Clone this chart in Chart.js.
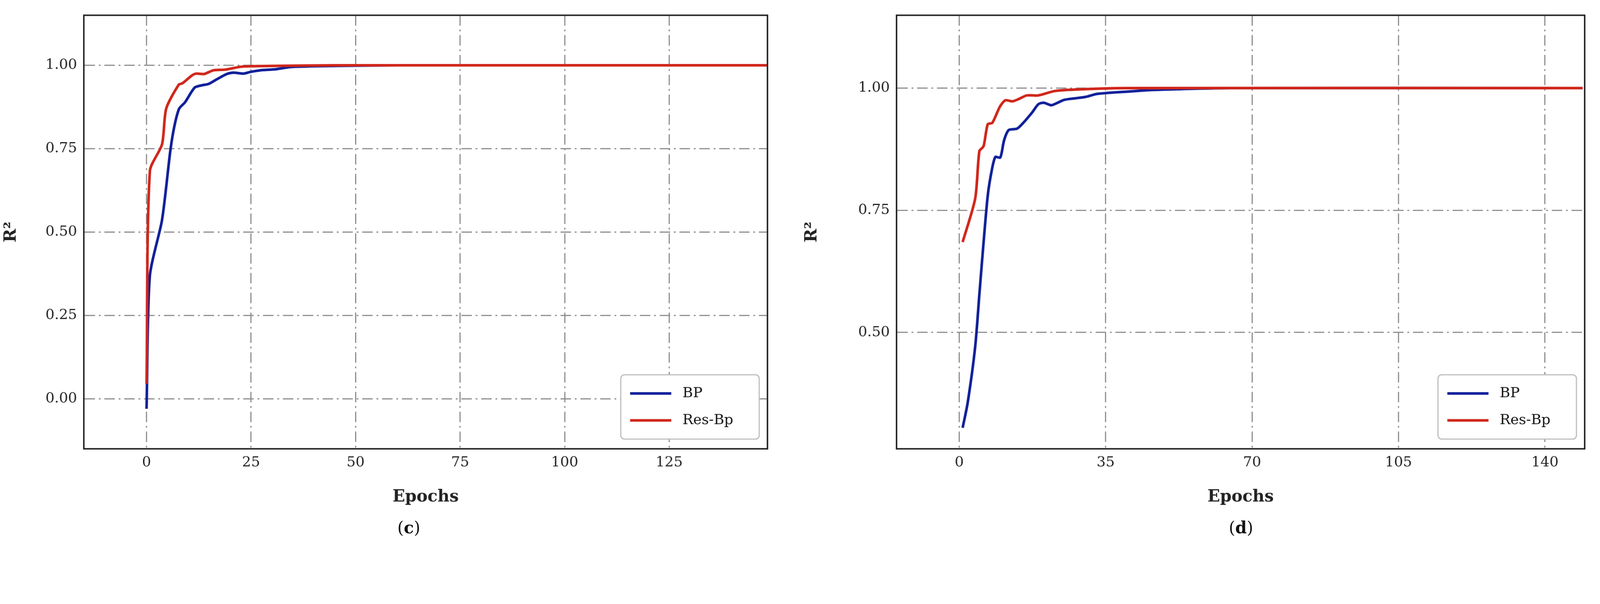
<!DOCTYPE html>
<html>
<head>
<meta charset="utf-8">
<script src="https://cdn.jsdelivr.net/npm/chart.js@4.4.1/dist/chart.umd.min.js"></script>
<style>
  html, body { margin: 0; background: #fff; overflow: hidden; }
  #wrap { width: 4276px; height: 1547px; position: relative; transform-origin: 0 0; }
  .panel { position: absolute; top: 0; height: 1547px; }
  .cap { position: absolute; top: 1385px; font: 44px "DejaVu Serif", serif; color: #111; }
</style>
</head>
<body>
<div id="wrap">
<div class="panel" style="left:0;width:2140px"><canvas id="chart-c"></canvas></div>
<div class="panel" style="left:2140px;width:2136px"><canvas id="chart-d"></canvas></div>
<div class="cap" style="left:1062px">(<b>c</b>)</div>
<div class="cap" style="left:3284px">(<b>d</b>)</div>
</div>
<script>
// panel (c)
const epochsBpC = [0, 0.8, 3.7, 5.7, 6.7, 7.8, 9.2, 11.5, 13.2, 14.8, 16.8, 19.2, 20.8, 23.2, 24.8, 27.2, 30.8, 34.7, 45, 60, 149];
const bpC = [-0.03, 0.37, 0.536, 0.745, 0.82, 0.87, 0.889, 0.933, 0.94, 0.944, 0.958, 0.974, 0.978, 0.975, 0.98, 0.985, 0.988, 0.995, 0.998, 1.0, 1.0];
const epochsResC = [0, 0.8, 3.7, 4.7, 7.7, 8.6, 10.8, 11.8, 13.8, 16, 18.8, 22.8, 30, 45, 149];
const resC = [0.045, 0.683, 0.763, 0.87, 0.942, 0.946, 0.969, 0.975, 0.974, 0.985, 0.987, 0.996, 0.998, 1.0, 1.0];
const xTicksC = [0, 25, 50, 75, 100, 125];
const yTicksC = [0, 0.25, 0.5, 0.75, 1.0];

// panel (d)
const epochsBpD = [0.8, 2, 3.8, 4.8, 5.8, 6.8, 7.7, 8.6, 9.8, 10.7, 11.8, 13.8, 15.3, 17.4, 18.9, 20.2, 22, 23.5, 25.1, 27.6, 30.2, 32.8, 35.3, 40.5, 45.6, 53, 65, 149];
const bpD = [0.305, 0.356, 0.471, 0.578, 0.684, 0.78, 0.829, 0.859, 0.858, 0.893, 0.914, 0.917, 0.929, 0.95, 0.967, 0.97, 0.965, 0.97, 0.976, 0.979, 0.982, 0.988, 0.99, 0.993, 0.996, 0.998, 1.0, 1.0];
const epochsResD = [0.8, 3.8, 4.8, 5.8, 6.8, 7.9, 9.7, 11, 12.7, 14.3, 16.1, 18.9, 22.8, 27.6, 40, 149];
const resD = [0.685, 0.774, 0.871, 0.881, 0.926, 0.929, 0.962, 0.975, 0.973, 0.978, 0.985, 0.985, 0.994, 0.997, 1.0, 1.0];
const xTicksD = [0, 35, 70, 105, 140];
const yTicksD = [0.5, 0.75, 1.0];

const BLUE = '#0f1f99';
const RED = '#d0261a';
const FONT = '"DejaVu Serif", "Liberation Serif", serif';

// fit the 4276px layout into whatever window we get
const s = Math.min(1, window.innerWidth / 4276);
document.getElementById('wrap').style.transform = 'scale(' + s + ')';

const pts = (xs, ys) => xs.map((x, i) => ({ x, y: ys[i] }));

// legend box in lower right of the plot area
const boxLegend = {
  id: 'boxLegend',
  afterDraw(chart) {
    const { ctx, chartArea: a } = chart;
    const w = 370, h = 172;
    const x = a.right - w - 22, y = a.bottom - h - 26;
    ctx.save();
    ctx.fillStyle = '#fff';
    ctx.strokeStyle = '#bbb';
    ctx.lineWidth = 3;
    ctx.beginPath();
    ctx.roundRect(x, y, w, h, 10);
    ctx.fill();
    ctx.stroke();
    ctx.font = '38px ' + FONT;
    ctx.textBaseline = 'middle';
    chart.data.datasets.forEach((ds, i) => {
      const ly = y + 50 + i * 72;
      ctx.strokeStyle = ds.borderColor;
      ctx.lineWidth = 7;
      ctx.beginPath();
      ctx.moveTo(x + 25, ly);
      ctx.lineTo(x + 135, ly);
      ctx.stroke();
      ctx.fillStyle = '#111';
      ctx.fillText(ds.label, x + 165, ly);
    });
    ctx.restore();
  }
};

const frame = {
  id: 'frame',
  afterDraw(chart) {
    const { ctx, chartArea: a } = chart;
    ctx.save();
    ctx.strokeStyle = '#222';
    ctx.lineWidth = 4;
    ctx.strokeRect(a.left, a.top, a.right - a.left, a.bottom - a.top);
    ctx.restore();
  }
};

function makeChart(id, bp, res, xr, yr, xTicks, yTicks, pad, yWidth) {
  const grid = { color: '#8a8a8a', lineWidth: 3, drawTicks: false };
  const border = { color: '#8a8a8a', width: 3, dash: [28, 10, 5, 10] };
  new Chart(document.getElementById(id), {
    type: 'line',
    data: {
      datasets: [
        { label: 'BP', data: bp, borderColor: BLUE, borderWidth: 7, pointRadius: 0, tension: 0.25, order: 1 },
        { label: 'Res-Bp', data: res, borderColor: RED, borderWidth: 7, pointRadius: 0, tension: 0.25, order: 0 },
      ]
    },
    options: {
      responsive: false,
      animation: false,
      devicePixelRatio: 1,
      layout: { padding: pad },
      plugins: { legend: { display: false }, tooltip: { enabled: false } },
      scales: {
        x: {
          type: 'linear', min: xr[0], max: xr[1],
          afterBuildTicks: sc => { sc.ticks = xTicks.map(v => ({ value: v })); },
          afterFit: sc => { sc.height = 160; },
          grid, border,
          ticks: { color: '#222', font: { family: FONT, size: 38 }, padding: 14, maxRotation: 0 },
          title: { display: true, text: 'Epochs', color: '#222', font: { family: FONT, size: 44, weight: 'bold' }, padding: { top: 10 } }
        },
        y: {
          min: yr[0], max: yr[1],
          afterBuildTicks: sc => { sc.ticks = yTicks.map(v => ({ value: v })); },
          afterFit: sc => { sc.width = yWidth; },
          grid, border,
          ticks: { color: '#222', font: { family: FONT, size: 38 }, padding: 18, callback: v => v.toFixed(2) },
          title: { display: true, text: 'R²', color: '#222', font: { family: FONT, size: 44, weight: 'bold' }, padding: { bottom: 20 } }
        }
      }
    },
    plugins: [boxLegend, frame]
  });
}

const cC = document.getElementById('chart-c');
cC.width = 2140; cC.height = 1547;
const cD = document.getElementById('chart-d');
cD.width = 2136; cD.height = 1547;

makeChart('chart-c', pts(epochsBpC, bpC), pts(epochsResC, resC), [-15, 148.5], [-0.15, 1.15],
  xTicksC, yTicksC, { top: 36, right: 89, bottom: 187, left: 0 }, 224);
makeChart('chart-d', pts(epochsBpD, bpD), pts(epochsResD, resD), [-15, 149.5], [0.262, 1.149],
  xTicksD, yTicksD, { top: 33, right: 41, bottom: 187, left: 0 }, 256);
</script>
</body>
</html>
